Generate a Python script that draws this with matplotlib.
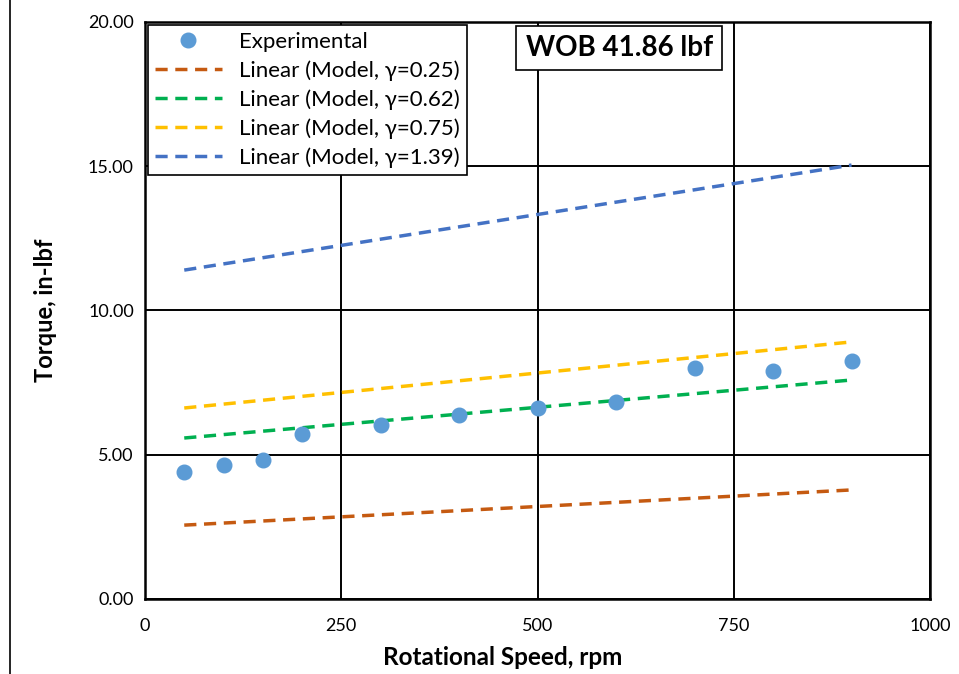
import numpy as np
import matplotlib.pyplot as plt
from matplotlib.lines import Line2D

plt.rcParams['font.family'] = ['Lato', 'DejaVu Sans']

# experimental data
rpm_exp = [50, 100, 150, 200, 300, 400, 500, 600, 700, 800, 900]
torque_exp = [4.40, 4.66, 4.82, 5.72, 6.03, 6.38, 6.62, 6.83, 8.01, 7.90, 8.25]

# model lines (end points)
rpm_model = [50, 900]
model_025 = [2.56, 3.78]
model_062 = [5.58, 7.59]
model_075 = [6.62, 8.91]
model_139 = [11.40, 15.04]

x_ticks = [0, 250, 500, 750, 1000]
y_ticks = [0, 5, 10, 15, 20]

DASH = (0, (3.5, 2.2))

fig = plt.figure(figsize=(9.59, 6.74), dpi=100)
ax = fig.add_axes([0.1512, 0.1113, 0.8186, 0.8561])

ax.grid(True, color='black', linewidth=1.4)
ax.set_axisbelow(True)

ax.plot(rpm_model, model_025, linestyle=DASH, color='#C55A11', linewidth=2.5)
ax.plot(rpm_model, model_062, linestyle=DASH, color='#00B050', linewidth=2.5)
ax.plot(rpm_model, model_075, linestyle=DASH, color='#FFC000', linewidth=2.5)
ax.plot(rpm_model, model_139, linestyle=DASH, color='#4472C4', linewidth=2.5)
ax.plot(rpm_exp, torque_exp, 'o', color='#5B9BD5', markersize=10.5, zorder=5)

ax.set_xlim(0, 1000)
ax.set_ylim(0, 20)
ax.set_xticks(x_ticks)
ax.set_yticks(y_ticks)
ax.set_yticklabels(['%.2f' % v for v in y_ticks])
ax.tick_params(length=0, labelsize=13, pad=8)
ax.tick_params(axis='x', pad=14)
for s in ax.spines.values():
    s.set_linewidth(1.8)

ax.set_xlabel('Rotational Speed, rpm', fontsize=17.5, fontweight='bold', labelpad=4)
ax.xaxis.set_label_coords(0.456, -0.082)
ax.set_ylabel('Torque, in-lbf', fontsize=17, fontweight='bold', labelpad=22)

handles = [
    Line2D([], [], marker='o', linestyle='none', color='#5B9BD5', markersize=10.5),
    Line2D([], [], linestyle=DASH, color='#C55A11', linewidth=2.5),
    Line2D([], [], linestyle=DASH, color='#00B050', linewidth=2.5),
    Line2D([], [], linestyle=DASH, color='#FFC000', linewidth=2.5),
    Line2D([], [], linestyle=DASH, color='#4472C4', linewidth=2.5),
]
labels = ['Experimental', 'Linear (Model, γ=0.25)', 'Linear (Model, γ=0.62)',
          'Linear (Model, γ=0.75)', 'Linear (Model, γ=1.39)']
leg = ax.legend(handles, labels, loc='upper left', bbox_to_anchor=(0.0, 1.0),
                fontsize=16, frameon=True, fancybox=False, edgecolor='black',
                framealpha=1, handlelength=3.0, borderaxespad=0.15, labelspacing=0.38,
                borderpad=0.3, handletextpad=0.8)
leg.get_frame().set_linewidth(1.2)

ax.text(0.604, 0.955, 'WOB 41.86 lbf', transform=ax.transAxes, fontsize=20,
        fontweight='bold', ha='center', va='center',
        bbox=dict(boxstyle='square,pad=0.33', facecolor='white', edgecolor='black', linewidth=1.2))

fig.add_artist(Line2D([0.0105, 0.0105], [0, 1], color='black', linewidth=1.2))

fig.savefig('out.png')
